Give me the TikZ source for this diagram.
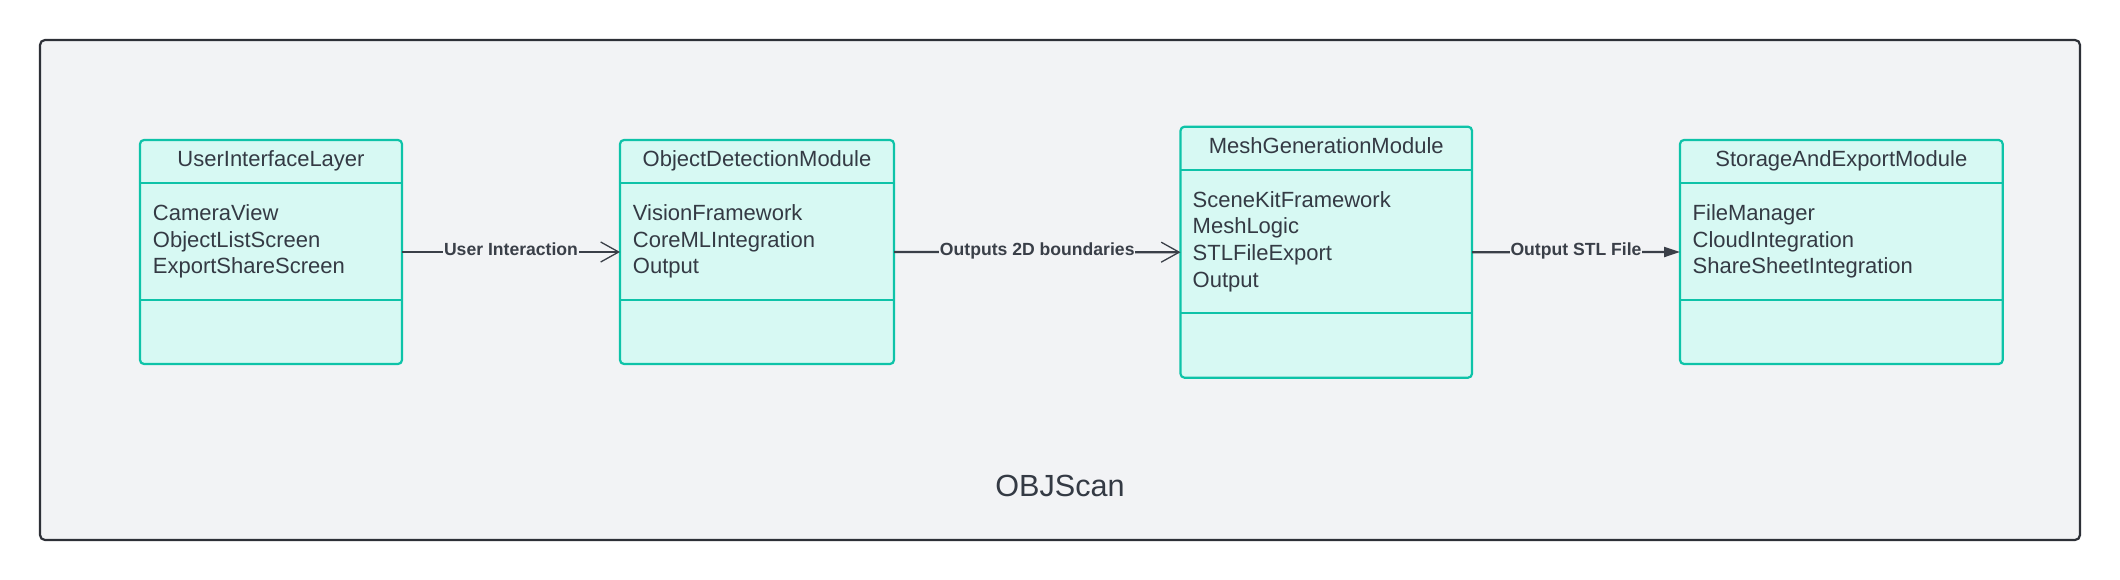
\documentclass[tikz,border=0pt]{standalone}
\usepackage{fontspec}
\setmainfont{Liberation Sans}
\usetikzlibrary{calc,arrows.meta}
\definecolor{framefill}{HTML}{F2F3F5}
\definecolor{framedraw}{HTML}{2D3037}
\definecolor{boxfill}{HTML}{D7F9F3}
\definecolor{boxdraw}{HTML}{0EC3A8}
\definecolor{txt}{HTML}{343A44}
\definecolor{conn}{HTML}{3A3F48}
\tikzset{
  classbox/.style={draw=boxdraw, fill=boxfill, line width=2.2pt, rounded corners=4pt,
    inner sep=0pt, outer sep=0pt, anchor=north west},
  divider/.style={draw=boxdraw, line width=2.2pt},
  hdr/.style={anchor=base, inner sep=0pt, text=txt, font=\fontsize{22}{26}\selectfont},
  attr/.style={anchor=base west, inner sep=0pt, text=txt, font=\fontsize{22}{26}\selectfont},
  lbl/.style={fill=framefill, inner sep=0.6pt, text=conn, anchor=base, yshift=-3.3pt,
    font=\bfseries\fontsize{17.6}{20}\selectfont},
  connector/.style={draw=conn, line width=2.2pt},
  openhead/.style={-{Straight Barb[length=18pt,width=20pt,line width=1.3pt]}},
  filledhead/.style={-{Triangle[length=16pt,width=10pt]}},
}
\begin{document}
\begin{tikzpicture}[x=1pt,y=-1pt]
\useasboundingbox (0,0) rectangle (2120,580);
% outer frame
\node[draw=framedraw, fill=framefill, line width=2.2pt, rounded corners=5pt,
  inner sep=0pt, outer sep=0pt, anchor=north west,
  minimum width=2040pt, minimum height=500pt] (frame) at (40,40) {};
\node[anchor=base, inner sep=0pt, text=txt, font=\fontsize{30.6}{34}\selectfont] (title) at (1060,496.7) {OBJScan};

% boxes
\node[classbox, minimum width=262pt, minimum height=224pt] (b1) at (140,140) {};
\node[classbox, minimum width=274pt, minimum height=224pt] (b2) at (620,140) {};
\node[classbox, minimum width=291.5pt, minimum height=251pt] (b3) at (1180.5,126.7) {};
\node[classbox, minimum width=322.7pt, minimum height=224pt] (b4) at (1680,140) {};

% dividers
\foreach \b in {b1,b2,b4}{
  \draw[divider] ($(\b.north west)+(0,42.7)$) -- ($(\b.north east)+(0,42.7)$);
  \draw[divider] ($(\b.north west)+(0,160)$) -- ($(\b.north east)+(0,160)$);
}
\draw[divider] ($(b3.north west)+(0,43.3)$) -- ($(b3.north east)+(0,43.3)$);
\draw[divider] ($(b3.north west)+(0,186.6)$) -- ($(b3.north east)+(0,186.6)$);

% headers
\node[hdr] (b1h) at ($(b1.north)+(0,26.5)$) {UserInterfaceLayer};
\node[hdr] (b2h) at ($(b2.north)+(0,26.5)$) {ObjectDetectionModule};
\node[hdr] (b3h) at ($(b3.north)+(0,26.5)$) {MeshGenerationModule};
\node[hdr] (b4h) at ($(b4.north)+(0,26.5)$) {StorageAndExportModule};

% attributes
\node[attr] (b1a1) at ($(b1.north west)+(12.7,80.5)$) {CameraView};
\node[attr] (b1a2) at ($(b1.north west)+(12.7,107.2)$) {ObjectListScreen};
\node[attr] (b1a3) at ($(b1.north west)+(12.7,133.9)$) {ExportShareScreen};

\node[attr] (b2a1) at ($(b2.north west)+(12.7,80.5)$) {VisionFramework};
\node[attr] (b2a2) at ($(b2.north west)+(12.7,107.2)$) {CoreMLIntegration};
\node[attr] (b2a3) at ($(b2.north west)+(12.7,133.9)$) {Output};

\node[attr] (b3a1) at ($(b3.north west)+(12,80.5)$) {SceneKitFramework};
\node[attr] (b3a2) at ($(b3.north west)+(12,107.2)$) {MeshLogic};
\node[attr] (b3a3) at ($(b3.north west)+(12,133.9)$) {STLFileExport};
\node[attr] (b3a4) at ($(b3.north west)+(12,160.6)$) {Output};

\node[attr] (b4a1) at ($(b4.north west)+(12.5,80.5)$) {FileManager};
\node[attr] (b4a2) at ($(b4.north west)+(12.5,107.2)$) {CloudIntegration};
\node[attr] (b4a3) at ($(b4.north west)+(12.5,133.9)$) {ShareSheetIntegration};

% connectors
\draw[connector, openhead] (b1.east) -- node[lbl] (l1) {User Interaction} (b2.west);
\draw[connector, openhead] (b2.east) -- node[lbl] (l2) {Outputs 2D boundaries} (b3.west);
\draw[connector, filledhead] (b3.east) -- node[lbl] (l3) {Output STL File} (b4.west);
\end{tikzpicture}
\end{document}
